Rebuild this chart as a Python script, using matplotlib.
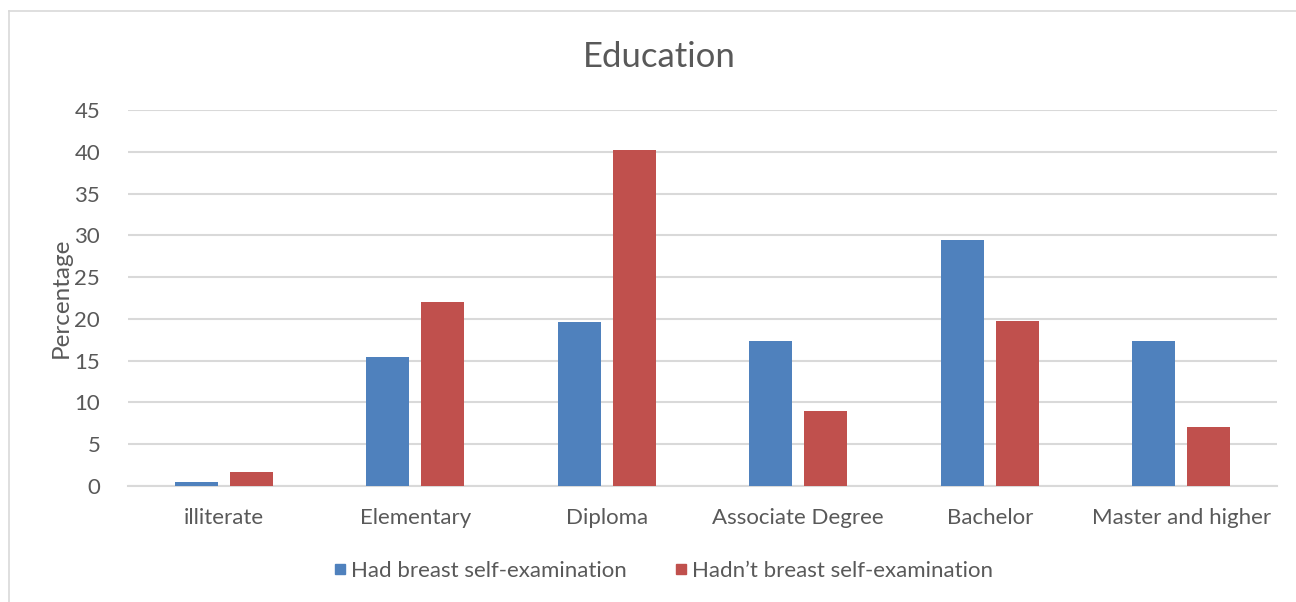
import numpy as np
import matplotlib.pyplot as plt
from matplotlib.lines import Line2D

plt.rcParams['font.family'] = ['Lato', 'DejaVu Sans']

categories = ['illiterate', 'Elementary', 'Diploma', 'Associate Degree', 'Bachelor', 'Master and higher']
had_bse = [0.5, 15.4, 19.6, 17.3, 29.4, 17.3]
hadnt_bse = [1.7, 22.0, 40.2, 9.0, 19.8, 7.1]
series_names = ['Had breast self-examination', 'Hadn\u2019t breast self-examination']

blue = '#4F81BD'
red = '#C0504D'
text_col = '#595959'
grid_col = '#D9D9D9'

fig = plt.figure(figsize=(12.96, 6.02), dpi=100)
ax = fig.add_axes([128 / 1296, 1 - 486 / 602, (1277 - 128) / 1296, (486 - 110) / 602])

x = np.arange(len(categories))
w = 0.225
off = 0.143
ax.bar(x - off, had_bse, w, color=blue, zorder=3)
ax.bar(x + off, hadnt_bse, w, color=red, zorder=3)

ax.set_xlim(-0.5, len(categories) - 0.5)
ax.set_ylim(0, 45)
ax.set_yticks(np.arange(0, 46, 5))
ax.yaxis.grid(True, color=grid_col, linewidth=1.5, zorder=0)
ax.set_axisbelow(True)
for s in ['top', 'right', 'left']:
    ax.spines[s].set_visible(False)
ax.spines['bottom'].set_color(grid_col)
ax.spines['bottom'].set_linewidth(1.5)
ax.tick_params(axis='both', length=0, labelsize=16, colors=text_col)
ax.tick_params(axis='y', pad=20)
ax.tick_params(axis='x', pad=16)
ax.set_xticks(x)
ax.set_xticklabels(categories)
ax.set_ylabel('Percentage', fontsize=17.5, color=text_col, labelpad=2)

fig.text(0.5085, 1 - 57 / 602, 'Education', ha='center', va='center', fontsize=25, color=text_col)

handles = [Line2D([], [], marker='s', linestyle='none', markersize=7.5, color=c) for c in (blue, red)]
fig.legend(handles, series_names, loc='center', bbox_to_anchor=(0.510, 1 - 571 / 602), ncol=2,
           frameon=False, fontsize=16, labelcolor=text_col, handletextpad=0.0, columnspacing=1.9,
           handlelength=1.0)

# chart frame
fig.add_artist(Line2D([9 / 1296, 1], [1 - 11 / 602] * 2, color=grid_col, linewidth=1.2))
fig.add_artist(Line2D([9 / 1296] * 2, [0, 1 - 11 / 602], color=grid_col, linewidth=1.2))

fig.savefig('out.png', dpi=100, facecolor='white')
